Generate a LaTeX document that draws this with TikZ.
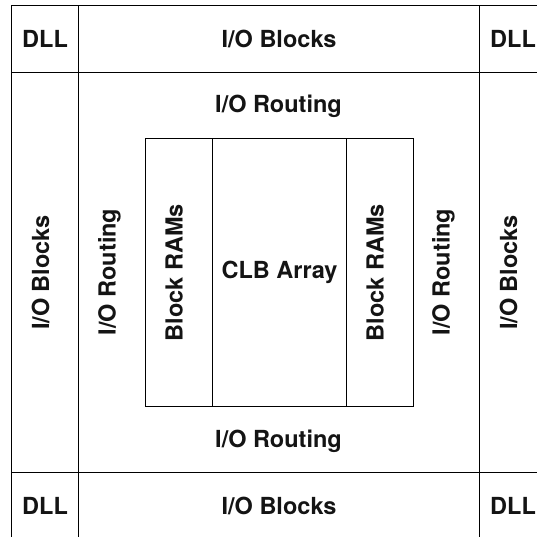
\documentclass[tikz,border=0pt]{standalone}
\usepackage{fontspec}
\setmainfont{TeX Gyre Heros}
\begin{document}
\begin{tikzpicture}[x=1pt,y=-1pt,
  cell/.style={draw, line width=1.1pt, rectangle, inner sep=0pt, anchor=north west},
  lbl/.style={font=\fontsize{23.5}{28}\selectfont\bfseries, text=black!92, inner sep=0pt},
  vlbl/.style={lbl, rotate=90}]
  % page frame
  \useasboundingbox (0,0) rectangle (537,536);
  \clip (0,0) rectangle (537,536);

  % outer ring of I/O blocks and DLL corners
  \node[cell, minimum width=67pt,  minimum height=67pt]  (dllTL) at (11,5) {};
  \node[cell, minimum width=401pt, minimum height=67pt]  (ioTop) at (78,5) {};
  \node[cell, minimum width=67pt,  minimum height=67pt]  (dllTR) at (479,5) {};
  \node[cell, minimum width=67pt,  minimum height=400pt] (ioLeft) at (11,72) {};
  \node[cell, minimum width=401pt, minimum height=400pt] (core) at (78,72) {};
  \node[cell, minimum width=67pt,  minimum height=400pt] (ioRight) at (479,72) {};
  \node[cell, minimum width=67pt,  minimum height=67pt]  (dllBL) at (11,472) {};
  \node[cell, minimum width=401pt, minimum height=67pt]  (ioBottom) at (78,472) {};
  \node[cell, minimum width=67pt,  minimum height=67pt]  (dllBR) at (479,472) {};

  % inner array: block RAM columns around the CLB array
  \node[cell, minimum width=67pt,  minimum height=268pt] (ramL) at (145,138) {};
  \node[cell, minimum width=134pt, minimum height=268pt] (clb)  at (212,138) {};
  \node[cell, minimum width=67pt,  minimum height=268pt] (ramR) at (346,138) {};

  % labels
  \node[lbl] (tDllTL) at (dllTL.center) {DLL};
  \node[lbl] (tDllTR) at (dllTR.center) {DLL};
  \node[lbl] (tDllBL) at (dllBL.center) {DLL};
  \node[lbl] (tDllBR) at (dllBR.center) {DLL};
  \node[lbl] (tIoTop) at (ioTop.center) {I/O Blocks};
  \node[lbl] (tIoBottom) at (ioBottom.center) {I/O Blocks};
  \node[vlbl] (tIoLeft) at ([xshift=-4.5pt]ioLeft.center) {I/O Blocks};
  \node[vlbl] (tIoRight) at ([xshift=-4.5pt]ioRight.center) {I/O Blocks};

  \node[lbl] (tRtTop) at (278.5,106.5) {I/O Routing};
  \node[lbl] (tRtBottom) at (278.5,441) {I/O Routing};
  \node[vlbl] (tRtLeft) at (109.5,272) {I/O Routing};
  \node[vlbl] (tRtRight) at (443.5,272) {I/O Routing};

  \node[vlbl] (tRamL) at ([xshift=-5pt]ramL.center) {Block RAMs};
  \node[vlbl] (tRamR) at ([xshift=-5pt]ramR.center) {Block RAMs};
  \node[lbl] (tClb) at (clb.center) {CLB Array};
\end{tikzpicture}
\end{document}
